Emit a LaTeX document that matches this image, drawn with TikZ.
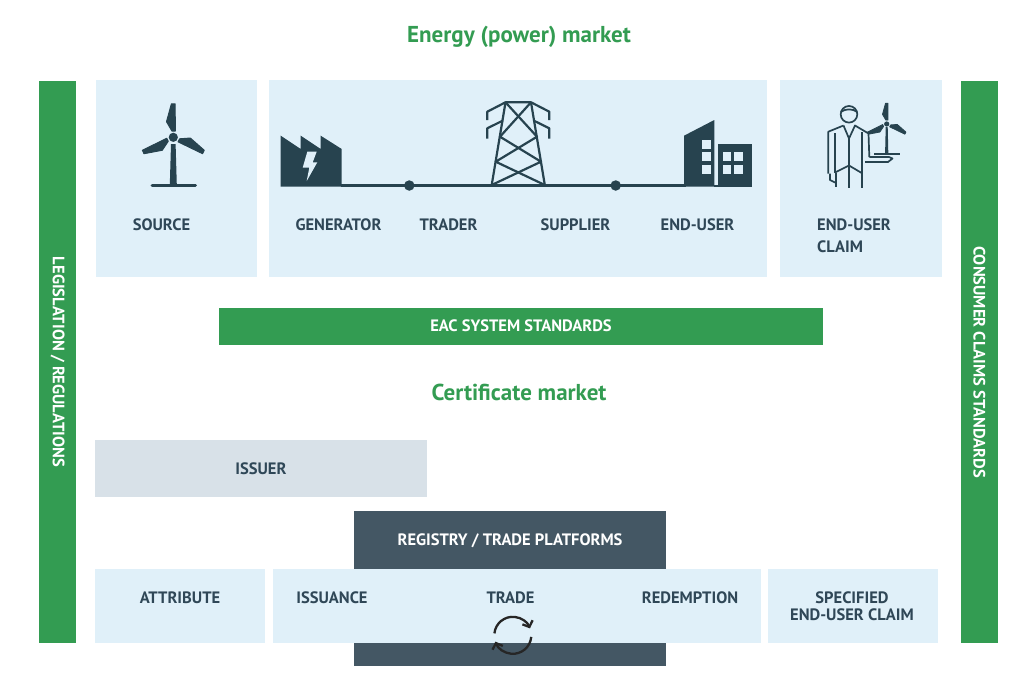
\documentclass[tikz,border=0pt]{standalone}
\usepackage{fontspec}
\setmainfont{PT Sans}
\usepackage{xcolor}
\usetikzlibrary{arrows.meta}
\definecolor{panelblue}{HTML}{E0F0F9}
\definecolor{marketgreen}{HTML}{339C52}
\definecolor{issuergrey}{HTML}{D8E1E8}
\definecolor{registrydark}{HTML}{445764}
\definecolor{icondark}{HTML}{27434F}
\definecolor{labeldark}{HTML}{2F4757}
\newcommand{\bladeshape}{(-1.4,-6.3) -- (-6.8,-15.6) -- (-1.9,-33.5) -- (1.9,-33.5) -- (2,-6.3) -- cycle}

\begin{document}
\begin{tikzpicture}[x=1pt, y=-1pt]
        \tikzstyle{panel}=[fill=panelblue, inner sep=0pt]
        \tikzstyle{greenbar}=[fill=marketgreen, inner sep=0pt]
        \tikzstyle{lbl}=[text=labeldark, font=\bfseries\fontsize{16.5}{22}\selectfont, inner sep=0pt]
        \tikzstyle{whitelbl}=[text=white, font=\bfseries\fontsize{16.5}{22}\selectfont, inner sep=0pt]
        \tikzstyle{headline}=[text=marketgreen, font=\bfseries\fontsize{23}{27}\selectfont, inner sep=0pt]
        \tikzstyle{point}=[circle, fill=icondark, inner sep=0pt, minimum size=10.5pt]
        \tikzstyle{thinicon}=[draw=icondark, line width=1.7pt, line join=round]
        \tikzstyle{cyclearrow}=[draw=black!85, line width=2.3pt, -{Straight Barb[length=5pt, width=11pt]}]

        \useasboundingbox (0,0) rectangle (1024,686);

        % Titles
        \node[headline] (energy) at (519,36.5) {Energy (power) market};
        \node[headline] (certificate) at (519,392.5) {Certificate market};

        % Side bars
        \node[greenbar, minimum width=37pt, minimum height=562pt] (legis) at (57.5,362) {};
        \node[greenbar, minimum width=37pt, minimum height=562pt] (consumer) at (979.5,362) {};
        \node[whitelbl, rotate=-90] at (legis.center) {LEGISLATION / REGULATIONS};
        \node[whitelbl, rotate=-90] at (consumer.center) {CONSUMER CLAIMS STANDARDS};

        % Energy market panels
        \node[panel, minimum width=161pt, minimum height=197pt] (source) at (176.5,178.5) {};
        \node[panel, minimum width=498pt, minimum height=197pt] (chain) at (518,178.5) {};
        \node[panel, minimum width=162pt, minimum height=197pt] (claim) at (861,178.5) {};

        % Turbine
        \coordinate (hub) at (173.3,137.3);
        \foreach \ang in {0,116,244}
            \filldraw[icondark, line width=1pt, line join=round, rotate around={-\ang:(hub)}, shift={(hub)}] \bladeshape;
        \fill[icondark] (hub) circle (4.6pt);
        \fill[icondark] (171,144) -- (175.6,144) -- (176.8,185) -- (169.8,185) -- cycle;
        \draw[icondark, line width=3pt, line cap=round] (152,185.5) -- (195.5,185.5);

        % Grid line and its points
        \draw[icondark, line width=3pt] (341,185.5) -- (686,185.5);
        \node[point] (p1) at (409.3,185.5) {};
        \node[point] (p2) at (615.7,185.5) {};

        % Factory
        \fill[icondark] (280.7,135.7) -- (300.7,149) -- (300.7,135.7) -- (320.7,149) -- (320.7,135.7) -- (341.7,149) -- (341.7,186.7) -- (280.7,186.7) -- cycle;
        \fill[panelblue] (307.3,151.7) -- (316.7,151.7) -- (312.7,162.3) -- (317.3,162.3) -- (306.7,181) -- (309.3,167.7) -- (302.7,167.7) -- cycle;

        % Pylon
        \begin{scope}[draw=icondark, line width=2.2pt, line join=round]
            \draw (491.7,185) -- (505.5,102.3) -- (531,102.3) -- (544.8,185);
            \draw (505.5,102.3) -- (487.3,111.7) -- (487.3,120);
            \draw (503,120.5) -- (487.3,128.3) -- (487.3,138.5);
            \draw (531,102.3) -- (549.3,111.7) -- (549.3,120);
            \draw (533.5,120.5) -- (549.3,128.3) -- (549.3,138.5);
            \draw (505.5,102.3) -- (537,136.7) -- (495.7,161.7) -- (544.8,185);
            \draw (531,102.3) -- (500,136.7) -- (541,161.7) -- (491.7,185);
        \end{scope}

        % Buildings
        \fill[icondark] (684,135.7) -- (714.3,120) -- (714.3,186.7) -- (684,186.7) -- cycle;
        \fill[icondark] (718,144.3) -- (752.3,144.3) -- (752.3,186.7) -- (718,186.7) -- cycle;
        \draw[icondark, line width=2pt] (714,185.7) -- (718,185.7);
        \foreach \wy in {140,152.4,165}
            \fill[panelblue] (702,\wy) rectangle +(8.7,8.5);
        \foreach \wx in {722.7,734}
            \foreach \wy in {152.4,165}
                \fill[panelblue] (\wx,\wy) rectangle +(8.7,8.5);

        % Person holding a turbine
        \draw[thinicon] (849,114.3) circle (8.3pt);
        \draw[thinicon] (840.8,112) .. controls (845,108.5) and (853,108.5) .. (857.2,112);
        \draw[thinicon] (843.5,125.5) -- (828.3,131.7) -- (828.3,173.5);
        \draw[thinicon] (835,133) -- (835,172.5);
        \draw[thinicon] (843.5,125.5) -- (849,138.5) -- (855,125.5) -- (868.5,133.5) -- (869.3,157);
        \draw[thinicon] (849,138.5) -- (849,188);
        \draw[thinicon] (861.7,132) -- (861.7,173);
        \draw[thinicon] (835,172.5) -- (849,165.5) -- (861.7,173);
        \draw[thinicon] (836,172.5) -- (836,187);
        \draw[thinicon] (861.7,173) -- (861.7,188);
        \draw[thinicon] (830,173.5) -- (830,180) -- (835,182.5);
        \draw[thinicon] (869.3,157) -- (889,157) -- (892.5,158.5) -- (888,162) -- (865,162);
        \begin{scope}[shift={(886.7,124)}, scale=0.62]
            \foreach \ang in {0,116,244}
                \filldraw[icondark, line width=0.8pt, line join=round, rotate=-\ang] \bladeshape;
        \end{scope}
        \fill[icondark] (886.7,124) circle (2.6pt);
        \fill[icondark] (885.7,127) -- (887.7,127) -- (888.3,153) -- (885.1,153) -- cycle;
        \draw[icondark, line width=2pt] (874,153.7) -- (899.5,153.7);

        % Energy market labels
        \node[lbl] (lsource) at (161.5,224.5) {SOURCE};
        \node[lbl] (lgen) at (338.5,224.5) {GENERATOR};
        \node[lbl] (ltrader) at (448.5,224.5) {TRADER};
        \node[lbl] (lsupplier) at (575.5,224.5) {SUPPLIER};
        \node[lbl] (lenduser) at (697.5,224.5) {END-USER};
        \node[lbl, align=left, anchor=west] (lclaim) at (817,235.5) {END-USER\\CLAIM};

        % Standards bar
        \node[greenbar, minimum width=604pt, minimum height=37pt] (eac) at (521,326.5) {};
        \node[whitelbl] at ([yshift=1pt]eac.center) {EAC SYSTEM STANDARDS};

        % Certificate market
        \node[fill=issuergrey, inner sep=0pt, minimum width=332pt, minimum height=57pt] (issuerbox) at (261,468.5) {};
        \node[lbl] at (issuerbox.center) {ISSUER};
        \node[fill=registrydark, inner sep=0pt, minimum width=312pt, minimum height=155pt] (registry) at (510,588.5) {};
        \node[whitelbl] (lregistry) at (510,541) {REGISTRY / TRADE PLATFORMS};
        \node[panel, minimum width=170pt, minimum height=74pt] (attrbox) at (180,606) {};
        \node[panel, minimum width=488pt, minimum height=74pt] (tradebox) at (517,606) {};
        \node[panel, minimum width=170pt, minimum height=74pt] (specbox) at (853,606) {};
        \node[lbl] (lattr) at (180,597.5) {ATTRIBUTE};
        \node[lbl] (lissue) at (332,597.5) {ISSUANCE};
        \node[lbl] (ltrade) at (510.5,597.5) {TRADE};
        \node[lbl] (lredeem) at (690,597.5) {REDEMPTION};
        \node[lbl, align=center, font=\bfseries\fontsize{16.5}{17}\selectfont] (lspec) at (852,606) {SPECIFIED\\END-USER CLAIM};

        % Cycle arrows
        \coordinate (cyc) at (512.8,635.3);
        \draw[cyclearrow] ([shift={(186:18.5)}]cyc) arc[start angle=186, end angle=338, radius=18.5];
        \draw[cyclearrow] ([shift={(5:18.5)}]cyc) arc[start angle=5, end angle=160, radius=18.5];
    \end{tikzpicture}
\end{document}
